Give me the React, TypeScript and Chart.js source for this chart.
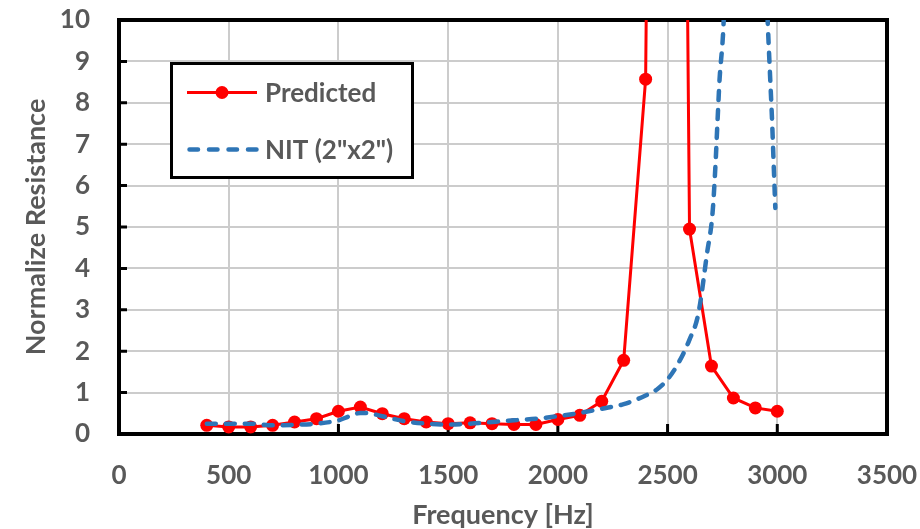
import React, { useEffect, useRef } from "react";
import { Chart, registerables } from "chart.js";
Chart.register(...registerables);

// ---- data ----
const predictedFreq = [400, 500, 600, 700, 800, 900, 1000, 1100, 1200, 1300, 1400, 1500, 1600, 1700, 1800, 1900, 2000, 2100, 2200, 2300, 2400, 2500, 2600, 2700, 2800, 2900, 3000];
const predictedVals = [0.21, 0.17, 0.17, 0.21, 0.29, 0.37, 0.55, 0.65, 0.49, 0.37, 0.29, 0.25, 0.27, 0.25, 0.23, 0.23, 0.35, 0.45, 0.79, 1.78, 8.57, 65, 4.95, 1.64, 0.87, 0.63, 0.55];

const nitFreq = [400, 500, 600, 700, 800, 900, 1000, 1050, 1100, 1150, 1200, 1300, 1400, 1500, 1600, 1700, 1800, 1900, 2000, 2100, 2200, 2300, 2400, 2450, 2500, 2550, 2600, 2640, 2680, 2705, 2718, 2728, 2737, 2753, 2765, 2850, 2945, 2956, 2968, 2976, 2984, 2991];
const nitVals: (number | null)[] = [0.25, 0.25, 0.25, 0.21, 0.22, 0.25, 0.33, 0.43, 0.51, 0.49, 0.43, 0.31, 0.25, 0.23, 0.25, 0.29, 0.33, 0.37, 0.43, 0.51, 0.61, 0.72, 0.93, 1.07, 1.32, 1.72, 2.28, 2.9, 4.37, 5.34, 6.47, 7.6, 8.57, 9.68, 11.2, null, 11.5, 10, 8.55, 7.6, 6.45, 5.46];

const seriesNames = ["Predicted", 'NIT (2"x2")'];
const xTitle = "Frequency [Hz]";
const yTitle = "Normalize Resistance";

const FONT = "Lato, 'Open Sans', sans-serif";
const TEXT = "#595959";
const RED = "#ff0000";
const BLUE = "#2e75b6";

const framePlugin = {
  id: "frameTicks",
  beforeDatasetsDraw(chart: any) {
    const { ctx, chartArea, scales } = chart;
    const { left, right, top, bottom } = chartArea;
    ctx.save();
    ctx.strokeStyle = "#000";
    ctx.lineWidth = 3;
    ctx.beginPath();
    scales.y.ticks.forEach((t: any) => {
      const py = scales.y.getPixelForValue(t.value);
      ctx.moveTo(left, py);
      ctx.lineTo(left + 8, py);
    });
    scales.x.ticks.forEach((t: any) => {
      const px = scales.x.getPixelForValue(t.value);
      ctx.moveTo(px, bottom);
      ctx.lineTo(px, bottom - 10);
    });
    ctx.stroke();
    ctx.lineWidth = 4;
    ctx.strokeRect(left, top, right - left, bottom - top);
    ctx.restore();
  },
};

const legendPlugin = {
  id: "customLegend",
  afterDraw(chart: any) {
    const { ctx } = chart;
    ctx.save();
    const bx = 171.5, by = 63.5, bw = 241, bh = 114;
    ctx.fillStyle = "#fff";
    ctx.fillRect(bx, by, bw, bh);
    ctx.strokeStyle = "#000";
    ctx.lineWidth = 3;
    ctx.strokeRect(bx, by, bw, bh);

    // row 1
    ctx.strokeStyle = RED;
    ctx.lineWidth = 3;
    ctx.beginPath();
    ctx.moveTo(187, 92.5);
    ctx.lineTo(257, 92.5);
    ctx.stroke();
    ctx.fillStyle = RED;
    ctx.beginPath();
    ctx.arc(222, 92.5, 6.5, 0, Math.PI * 2);
    ctx.fill();

    // row 2
    ctx.strokeStyle = BLUE;
    ctx.lineWidth = 4.5;
    ctx.lineCap = "round";
    ctx.setLineDash([8.5, 11]);
    ctx.beginPath();
    ctx.moveTo(189.5, 149.5);
    ctx.lineTo(257, 149.5);
    ctx.stroke();
    ctx.setLineDash([]);

    ctx.fillStyle = TEXT;
    ctx.font = `bold 26px ${FONT}`;
    ctx.textBaseline = "alphabetic";
    ctx.textAlign = "left";
    ctx.fillText(seriesNames[0], 265, 101.5);
    ctx.fillText(seriesNames[1], 265, 158.5);
    ctx.restore();
  },
};

export default function App() {
  const ref = useRef<HTMLCanvasElement | null>(null);
  useEffect(() => {
    document.body.style.margin = "0";
    const canvas = ref.current;
    if (!canvas) return;
    const chart = new Chart(canvas, {
      type: "line",
      data: {
        datasets: [
          {
            label: seriesNames[1],
            data: nitFreq.map((f, i) => ({ x: f, y: nitVals[i] })),
            borderColor: BLUE,
            backgroundColor: BLUE,
            borderWidth: 4.5,
            borderDash: [9, 10],
            borderCapStyle: "round",
            pointRadius: 0,
            cubicInterpolationMode: "monotone",
            spanGaps: false,
            fill: false,
          },
          {
            label: seriesNames[0],
            data: predictedFreq.map((f, i) => ({ x: f, y: predictedVals[i] })),
            borderColor: RED,
            backgroundColor: RED,
            borderWidth: 3,
            pointRadius: 6.5,
            pointBorderWidth: 0,
            pointBackgroundColor: RED,
            tension: 0,
            fill: false,
          },
        ],
      },
      options: {
        responsive: false,
        animation: false,
        devicePixelRatio: 1,
        layout: { padding: { left: 0, top: 20, right: 33, bottom: 0 } },
        plugins: { legend: { display: false }, tooltip: { enabled: false } },
        scales: {
          x: {
            type: "linear",
            min: 0,
            max: 3500,
            border: { display: false },
            grid: { color: "#cccccc", lineWidth: 2, drawTicks: true, tickLength: 26, tickColor: "rgba(0,0,0,0)" },
            ticks: {
              stepSize: 500,
              autoSkip: false,
              maxRotation: 0,
              padding: 0,
              color: TEXT,
              font: { family: FONT, size: 26, weight: "bold" },
              callback: (v: any) => String(v),
            },
            title: {
              display: true,
              text: xTitle,
              color: TEXT,
              font: { family: FONT, size: 27, weight: "bold", lineHeight: 1 },
              padding: { top: 0, bottom: 0 },
            },
            afterFit(scale: any) {
              scale.height = 95;
            },
          },
          y: {
            type: "linear",
            min: 0,
            max: 10,
            border: { display: false },
            grid: { color: "#cccccc", lineWidth: 2, drawTicks: true, tickLength: 29, tickColor: "rgba(0,0,0,0)" },
            ticks: {
              stepSize: 1,
              padding: 0,
              color: TEXT,
              font: { family: FONT, size: 26, weight: "bold" },
              callback: (v: any) => String(v),
            },
            title: {
              display: true,
              text: yTitle,
              color: TEXT,
              font: { family: FONT, size: 27, weight: "bold", lineHeight: 1 },
              padding: { top: 23, bottom: 0 },
            },
            afterFit(scale: any) {
              scale.width = 119;
            },
          },
        },
      } as any,
      plugins: [framePlugin, legendPlugin],
    });
    return () => chart.destroy();
  }, []);
  return <canvas ref={ref} width={920} height={529} style={{ display: "block" }} />;
}
